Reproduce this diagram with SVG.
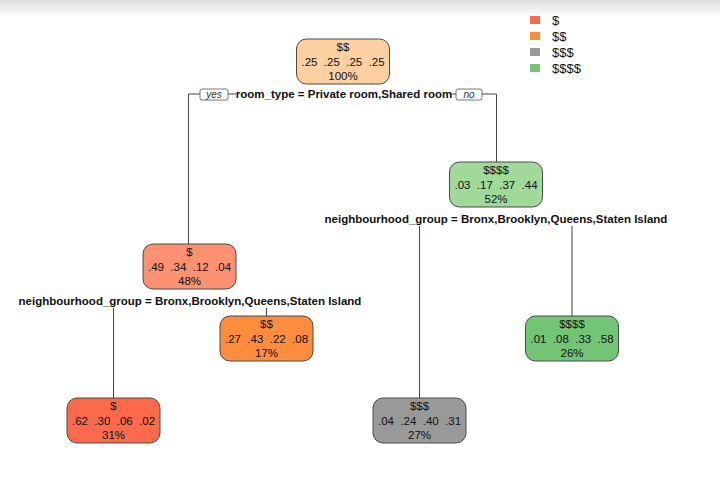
<svg xmlns="http://www.w3.org/2000/svg" width="720" height="480" viewBox="0 0 720 480">
<defs>
<linearGradient id="topg" x1="0" y1="0" x2="0" y2="1">
<stop offset="0" stop-color="#dcdcdc"/>
<stop offset="1" stop-color="#ffffff"/>
</linearGradient>
<style>
.box{stroke:#4a4a4a;stroke-width:1}
.nt{font-family:"Liberation Sans",Arial,sans-serif;font-size:11.5px;fill:#111;text-anchor:middle;white-space:pre}
.sl{font-family:"Liberation Sans",Arial,sans-serif;font-size:11.5px;font-weight:bold;fill:#111;text-anchor:middle}
.yn{fill:#fff;stroke:#555;stroke-width:0.8}
.ynt{font-family:"Liberation Sans",Arial,sans-serif;font-size:10px;font-style:italic;fill:#333;text-anchor:middle}
.ln{fill:none;stroke:#444;stroke-width:1}
.lg{font-family:"Liberation Sans",Arial,sans-serif;font-size:13px;fill:#111}
</style>
</defs>
<rect x="0" y="0" width="720" height="480" fill="#fff"/>
<rect x="0" y="0" width="720" height="17" fill="url(#topg)"/>

<g id="legend">
<rect x="530" y="16" width="10" height="8" fill="#fb6a4a"/>
<text class="lg" x="552" y="24.5">$</text>
<rect x="530" y="32" width="10" height="8" fill="#fd8d3c"/>
<text class="lg" x="552" y="40.5">$$</text>
<rect x="530" y="48" width="10" height="8" fill="#999999"/>
<text class="lg" x="552" y="56.5">$$$</text>
<rect x="530" y="64" width="10" height="8" fill="#74c476"/>
<text class="lg" x="552" y="72.5">$$$$</text>
</g>

<g id="connectors">
<path class="ln" d="M188.5,244 V94 H200"/>
<path class="ln" d="M228,94 H236"/>
<path class="ln" d="M452,94 H456"/>
<path class="ln" d="M482,94 H496.5 V162"/>
<path class="ln" d="M113.5,308 V398"/>
<path class="ln" d="M266.5,308 V316"/>
<path class="ln" d="M419.5,226 V398"/>
<path class="ln" d="M572,226 V316"/>
</g>

<g id="split-root">
<text class="sl" x="344" y="98">room_type = Private room,Shared room</text>
<rect class="yn" x="200" y="89" width="28" height="11" rx="2"/>
<text class="ynt" x="214" y="97.5">yes</text>
<rect class="yn" x="456" y="89" width="26" height="11" rx="2"/>
<text class="ynt" x="469" y="97.5">no</text>
</g>

<g id="node-root">
<rect class="box" x="296.5" y="39" width="93" height="45" rx="10" fill="#fdd0a2"/>
<text class="nt" x="343" y="51">$$</text>
<text class="nt" x="343" y="66">.25  .25  .25  .25</text>
<text class="nt" x="343" y="80">100%</text>
</g>

<g id="node-right">
<rect class="box" x="449.5" y="162" width="93" height="45" rx="10" fill="#a1d99b"/>
<text class="nt" x="496" y="174">$$$$</text>
<text class="nt" x="496" y="189">.03  .17  .37  .44</text>
<text class="nt" x="496" y="203">52%</text>
<text class="sl" x="496" y="223">neighbourhood_group = Bronx,Brooklyn,Queens,Staten Island</text>
</g>

<g id="node-left">
<rect class="box" x="143" y="244" width="93" height="45" rx="10" fill="#fc9272"/>
<text class="nt" x="189.5" y="256">$</text>
<text class="nt" x="189.5" y="271">.49  .34  .12  .04</text>
<text class="nt" x="189.5" y="285">48%</text>
<text class="sl" x="190" y="305">neighbourhood_group = Bronx,Brooklyn,Queens,Staten Island</text>
</g>

<g id="leaf-17">
<rect class="box" x="220" y="316" width="93" height="45" rx="10" fill="#fd8d3c"/>
<text class="nt" x="266.5" y="328">$$</text>
<text class="nt" x="266.5" y="343">.27  .43  .22  .08</text>
<text class="nt" x="266.5" y="357">17%</text>
</g>

<g id="leaf-26">
<rect class="box" x="525.5" y="316" width="93" height="45" rx="10" fill="#74c476"/>
<text class="nt" x="572" y="328">$$$$</text>
<text class="nt" x="572" y="343">.01  .08  .33  .58</text>
<text class="nt" x="572" y="357">26%</text>
</g>

<g id="leaf-31">
<rect class="box" x="67" y="398" width="93" height="45" rx="10" fill="#fb6a4a"/>
<text class="nt" x="113.5" y="410">$</text>
<text class="nt" x="113.5" y="425">.62  .30  .06  .02</text>
<text class="nt" x="113.5" y="439">31%</text>
</g>

<g id="leaf-27">
<rect class="box" x="373" y="398" width="93" height="45" rx="10" fill="#999999"/>
<text class="nt" x="419.5" y="410">$$$</text>
<text class="nt" x="419.5" y="425">.04  .24  .40  .31</text>
<text class="nt" x="419.5" y="439">27%</text>
</g>
</svg>
